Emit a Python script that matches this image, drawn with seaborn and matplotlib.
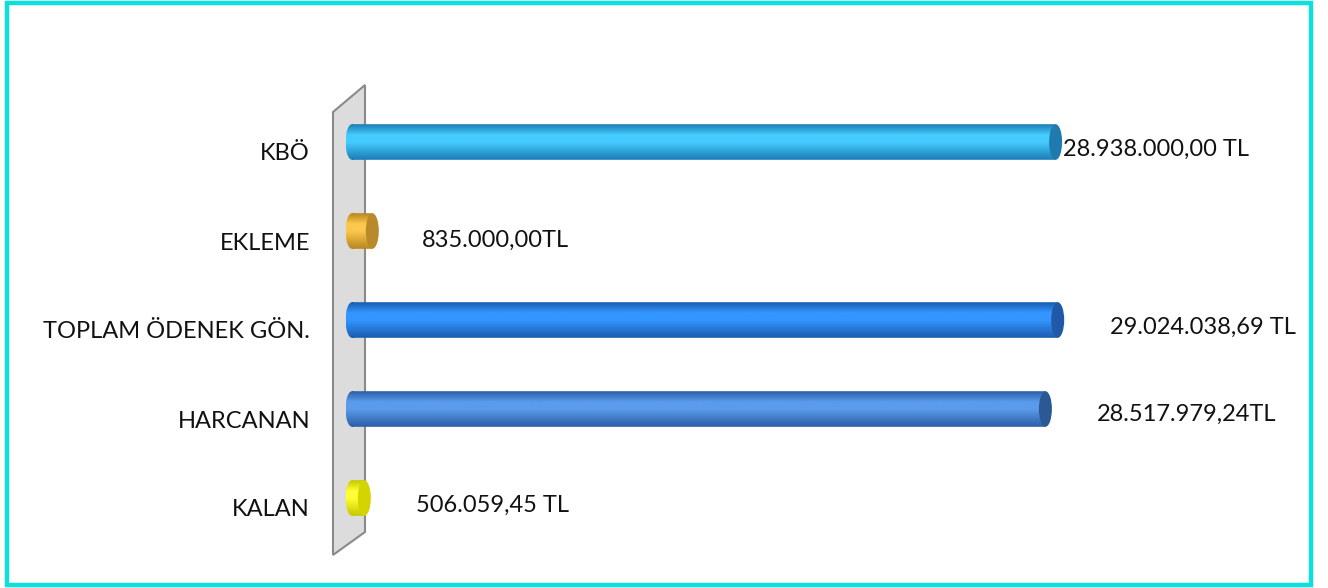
import numpy as np
import pandas as pd
import matplotlib.pyplot as plt
import seaborn as sns
from matplotlib.patches import Ellipse, PathPatch, Polygon, Rectangle
from matplotlib.path import Path
from matplotlib.colors import LinearSegmentedColormap

# --- data ---
categories = ["KBÖ", "EKLEME", "TOPLAM ÖDENEK GÖN.", "HARCANAN", "KALAN"]
values = [28938000.00, 835000.00, 29024038.69, 28517979.24, 506059.45]
value_labels = ["28.938.000,00 TL", "835.000,00TL", "29.024.038,69 TL",
                "28.517.979,24TL", "506.059,45 TL"]

# --- style ---
# (dark edge, light band, cap colour) per bar
shades = [
    ("#1B7DB5", "#45CCFF", "#1F7AAE"),
    ("#B8861E", "#FBC84E", "#B88A2A"),
    ("#1C5BB0", "#3396FF", "#2059A8"),
    ("#2B5FA6", "#5A9BEB", "#2C5993"),
    ("#C8C800", "#FFFF33", "#D4D400"),
]
label_dx = [7, 50, 52, 51, 52]   # pixels right of bar end
label_dy = [-7, -9, -7, -5, -7]  # pixels (negative = down)

W, H = 1328, 588
fig = plt.figure(figsize=(W / 100, H / 100), dpi=100)
sns.set_style("white")
plt.rcParams["font.family"] = ["Lato", "DejaVu Sans"]

zero_px, left_px, x1_px = 352, 336, 1310
top_px, bot_px = 97.5, 542.5
ax = fig.add_axes([left_px / W, (H - bot_px) / H, (x1_px - left_px) / W,
                   (bot_px - top_px) / H])
ax.set_zorder(1)

# back wall (3D panel)
wall = [(333, 112), (365, 85), (365, 532), (333, 555)]
fig.patches.append(Polygon([(x / W, 1 - y / H) for x, y in wall], closed=True,
                           transform=fig.transFigure, facecolor="#DCDCDC",
                           edgecolor="#8A8A8A", linewidth=1.5, zorder=0))
ax.patch.set_alpha(0)

df = pd.DataFrame({"cat": categories, "val": values})
bar_h = 0.4
sns.barplot(data=df, x="val", y="cat", hue="cat", orient="h", width=bar_h,
            palette=[s[1] for s in shades], legend=False, ax=ax)

xmax = 39.4e6
px_per_unit = (x1_px - zero_px) / xmax
xmin = -(zero_px - left_px) / px_per_unit
cap_w = 13 / px_per_unit

bars = [c.patches[0] for c in ax.containers]
for i, bar in enumerate(bars):
    dark, light, cap = shades[i]
    bar.set_facecolor("none")
    bar.set_edgecolor("none")
    v = values[i]
    yc = i
    # clip shape: rectangle + rounded left end
    rect = Path([(0, yc - bar_h / 2), (v, yc - bar_h / 2), (v, yc + bar_h / 2),
                 (0, yc + bar_h / 2), (0, yc - bar_h / 2)], closed=True)
    e = Ellipse((0, yc), cap_w, bar_h)
    ev = e.get_patch_transform().transform(e.get_path().vertices)
    left = Path(ev, e.get_path().codes)
    clip = PathPatch(Path.make_compound_path(rect, left), transform=ax.transData,
                     facecolor="none", edgecolor="none")
    ax.add_patch(clip)
    cmap = LinearSegmentedColormap.from_list(
        f"cyl{i}", [(0, dark), (0.3, light), (0.5, light), (1.0, dark)])
    grad = np.linspace(0, 1, 64).reshape(-1, 1)
    im = ax.imshow(grad, cmap=cmap, aspect="auto", origin="upper",
                   extent=[-cap_w / 2, v, yc + bar_h / 2, yc - bar_h / 2],
                   interpolation="bilinear", zorder=2)
    im.set_clip_path(clip)
    # right end cap
    ax.add_patch(Ellipse((v, yc), cap_w, bar_h, facecolor=cap,
                         edgecolor="none", zorder=3))
    ax.annotate(value_labels[i], xy=(v, yc), xytext=(label_dx[i], label_dy[i]),
                textcoords="offset pixels", ha="left", va="center",
                fontsize=17, color="#111111")
    ax.annotate(categories[i], xy=(0, yc), xytext=(-42, -12),
                textcoords="offset pixels", ha="right", va="center",
                fontsize=17, color="#111111", annotation_clip=False)

ax.set_xlim(xmin, xmax)
ax.set_ylim(len(categories) - 0.5, -0.5)
ax.set_xlabel("")
ax.set_ylabel("")
ax.set_xticks([])
ax.set_yticks([])
for s in ax.spines.values():
    s.set_visible(False)

# outer border
fig.patches.append(Rectangle((7 / W, 1 - 585 / H), (1311 - 7) / W, (585 - 3) / H,
                             transform=fig.transFigure, fill=False,
                             edgecolor="#0BE0DC", linewidth=3.2, zorder=5))

fig.savefig("out.png", dpi=100, facecolor="white")
